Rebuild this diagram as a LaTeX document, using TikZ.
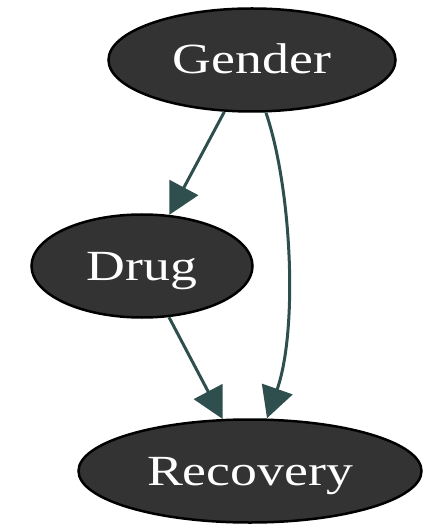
\documentclass[tikz,border=0pt]{standalone}
\usepackage{fontspec}
\setmainfont{Liberation Serif}
\usetikzlibrary{shapes.geometric,arrows.meta}
\definecolor{nodefill}{HTML}{333333}
\definecolor{edgecol}{HTML}{2F4F4F}
\tikzset{
  var/.style={ellipse, draw=black, line width=2.5pt, fill=nodefill, text=white,
    inner sep=0pt, minimum height=103pt, text height=28pt, text depth=0pt,
    font=\fontsize{43}{50}\selectfont},
  edge/.style={draw=edgecol, line width=3pt,
    -{Triangle[length=31pt,width=32pt]}},
}
\newcommand{\wide}[1]{\scalebox{1.25}[1]{#1}}
\begin{document}
\begin{tikzpicture}[x=1pt,y=-1pt]
  \useasboundingbox (0,0) rectangle (423,526);
  \node[var, minimum width=287pt] (g) at (252,60) {\wide{Gender}};
  \node[var, minimum width=221pt] (d) at (142,266) {\wide{Drug}};
  \node[var, minimum width=343pt] (r) at (250,471) {\wide{Recovery}};
  \draw[edge] (g) -- (d);
  \draw[edge] (d) -- (r);
  \draw[edge] ([xshift=14pt]g.south) .. controls (292,190) and (298,330) .. ([xshift=17pt]r.north);
\end{tikzpicture}
\end{document}
